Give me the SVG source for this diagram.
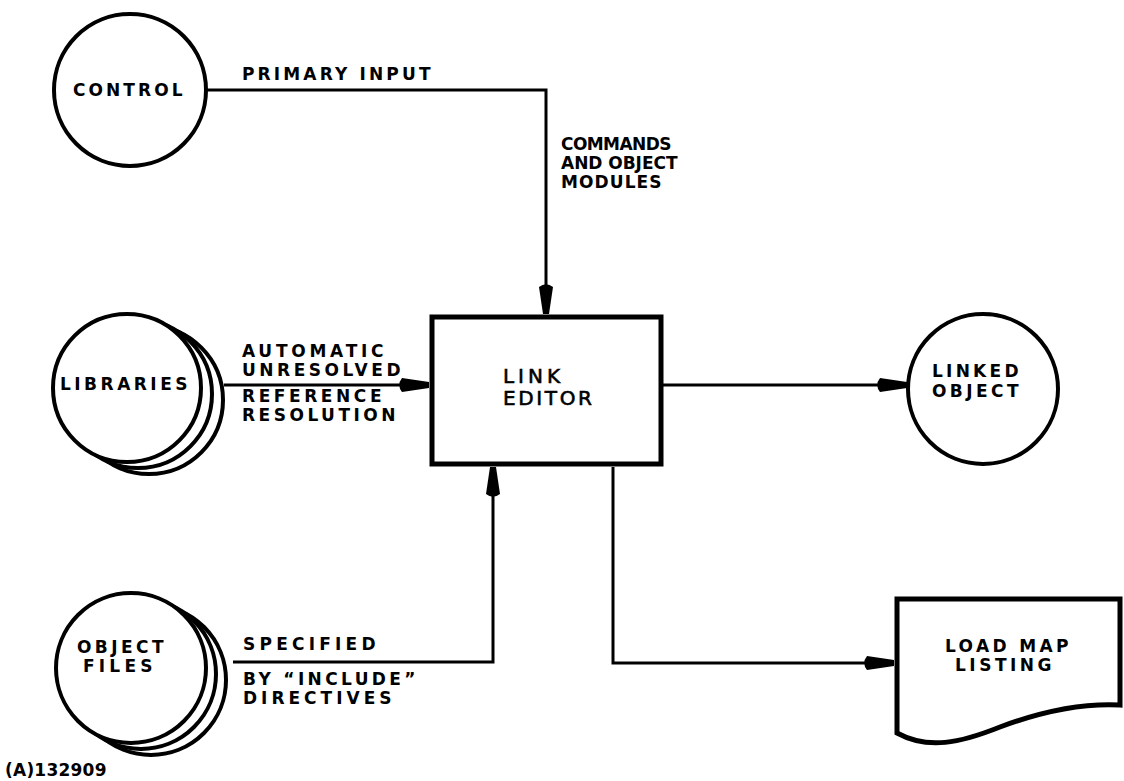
<svg xmlns="http://www.w3.org/2000/svg" width="1124" height="781" viewBox="0 0 1124 781">
<style>
.node{fill:#fff;stroke:#000;stroke-width:4}
.box{fill:#fff;stroke:#000;stroke-width:5}
.conn{fill:none;stroke:#000;stroke-width:3}
.t{font-family:"DejaVu Sans","Liberation Sans",sans-serif;font-weight:bold;font-size:17px;fill:#000;letter-spacing:1.5px}
.tl{font-family:"DejaVu Sans","Liberation Sans",sans-serif;font-weight:normal;font-size:20px;fill:#000;stroke:#000;stroke-width:0.6}
</style>
<defs>
<marker id="arr" markerUnits="userSpaceOnUse" viewBox="-2 -9 32 18" refX="30" refY="0" markerWidth="32" markerHeight="18" orient="auto" overflow="visible">
<path d="M3,-7 L30,-3 L30,3 L3,7 Q-2.5,0 3,-7 Z" fill="#000"/>
</marker>
</defs>
<rect width="1124" height="781" fill="#fff"/>
<g id="connectors">
<path class="conn" d="M206,90 H546 V314" marker-end="url(#arr)"/>
<path class="conn" d="M224,385 H429" marker-end="url(#arr)"/>
<path class="conn" d="M233,662 H493 V467" marker-end="url(#arr)"/>
<path class="conn" d="M663,385 H907" marker-end="url(#arr)"/>
<path class="conn" d="M613,467 V663 H894" marker-end="url(#arr)"/>
<text class="t" x="242" y="80" textLength="190" lengthAdjust="spacing">PRIMARY INPUT</text>
<text class="t" x="561" y="150" textLength="112" lengthAdjust="spacing">COMMANDS</text>
<text class="t" x="561" y="169" textLength="118" lengthAdjust="spacing">AND OBJECT</text>
<text class="t" x="561" y="188" textLength="102" lengthAdjust="spacing">MODULES</text>
<text class="t" x="242" y="357" textLength="143" lengthAdjust="spacing">AUTOMATIC</text>
<text class="t" x="242" y="376" textLength="160" lengthAdjust="spacing">UNRESOLVED</text>
<text class="t" x="242" y="402" textLength="141" lengthAdjust="spacing">REFERENCE</text>
<text class="t" x="242" y="421" textLength="155" lengthAdjust="spacing">RESOLUTION</text>
<text class="t" x="243" y="650" textLength="134" lengthAdjust="spacing">SPECIFIED</text>
<text class="t" x="243" y="685" textLength="174" lengthAdjust="spacing">BY “INCLUDE”</text>
<text class="t" x="243" y="704" textLength="150" lengthAdjust="spacing">DIRECTIVES</text>
</g>
<g id="control">
<circle class="node" cx="130" cy="90" r="76"/>
<text class="t" x="73" y="96" textLength="111" lengthAdjust="spacing" font-size="19">CONTROL</text>
</g>
<g id="libraries">
<circle class="node" cx="149" cy="400" r="74"/>
<circle class="node" cx="138" cy="394" r="74"/>
<circle class="node" cx="127" cy="388" r="74"/>
<text class="t" x="60" y="390" textLength="129" lengthAdjust="spacing" font-size="19">LIBRARIES</text>
</g>
<g id="object-files">
<circle class="node" cx="151" cy="680" r="75"/>
<circle class="node" cx="141" cy="674" r="75"/>
<circle class="node" cx="131" cy="668" r="75"/>
<text class="t" x="77" y="653" textLength="88" lengthAdjust="spacing" font-size="18">OBJECT</text>
<text class="t" x="83" y="672" textLength="71" lengthAdjust="spacing" font-size="18">FILES</text>
</g>
<g id="link-editor">
<rect class="box" x="432" y="317" width="229" height="147"/>
<text class="tl" x="503" y="383" textLength="57" lengthAdjust="spacing">LINK</text>
<text class="tl" x="503" y="405" textLength="89" lengthAdjust="spacing">EDITOR</text>
</g>
<g id="linked-object">
<circle class="node" cx="983" cy="389" r="75"/>
<text class="t" x="932" y="377" textLength="88" lengthAdjust="spacing" font-size="18">LINKED</text>
<text class="t" x="932" y="397" textLength="88" lengthAdjust="spacing" font-size="18">OBJECT</text>
</g>
<g id="load-map">
<path class="box" d="M897,599 H1120 V705 C1080,703 1040,712 1000,727 C960,743 928,750 897,733 Z"/>
<text class="t" x="945" y="652" textLength="125" lengthAdjust="spacing" font-size="18">LOAD MAP</text>
<text class="t" x="955" y="671" textLength="98" lengthAdjust="spacing" font-size="18">LISTING</text>
</g>
<text class="t" x="5" y="776" textLength="103" lengthAdjust="spacing">(A)132909</text>
</svg>
